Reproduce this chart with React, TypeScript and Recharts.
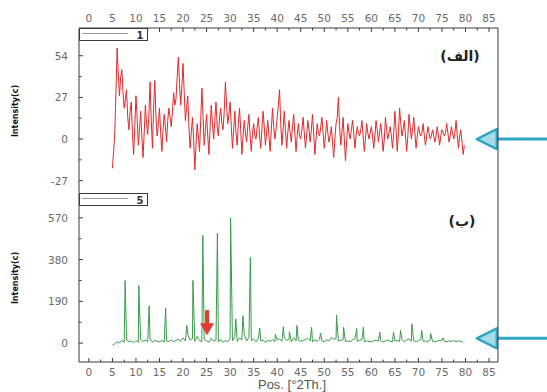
import React from "react";
import { LineChart, Line, XAxis, YAxis, ReferenceLine } from "recharts";

// sample 1 scan: 5 .. 79.75 °2Th in 0.25 steps
const TOP_START = 5;
const TOP_STEP = 0.25;
const TOP_VALUES = [
  -19, -8, 4, 30, 59, 42, 28, 40, 45, 30, 20, 26, 32, 14, 6, 18, 24, 4, -10, 8,
  28, 14, -4, 6, 18, 2, -12, 4, 22, 10, 3, 16, 37, 12, -6, 20, 38, 14, 2, 10,
  20, 4, -8, 6, 16, 8, -2, 12, 20, 14, 8, 18, 30, 22, 26, 40, 53, 36, 22, 34,
  49, 30, 12, 20, 28, 8, -6, 4, 14, 0, -20, -4, 10, 2, -8, 12, 33, 14, -4, 6,
  16, 2, -10, 8, 22, 10, 0, 12, 24, 8, 2, 14, 20, 10, 6, 18, 37, 22, 10, 16,
  24, 8, -6, 6, 18, 4, -4, 10, 20, 6, -10, 2, 12, 4, -2, 8, 16, 2, -8, 4,
  10, 2, 0, 8, 14, 2, -6, 6, 18, 8, -4, 4, 12, 2, -8, 6, 20, 8, 0, 6,
  14, 22, 32, 10, -4, 6, 18, 6, -6, 4, 12, 4, -2, 8, 16, 4, -8, 2, 10, 2,
  0, 6, 14, 4, -6, 2, 12, 6, -2, 6, 16, 4, -10, 0, 10, 4, 2, 8, 14, 4,
  -6, 2, 12, 4, -2, 2, 8, -2, -12, 0, 10, 14, 27, 8, -4, 4, 14, 0, -14, -2,
  10, 4, 0, 6, 12, 4, -6, 2, 8, 4, 2, 6, 12, 2, -8, 0, 10, 4, 0, 4,
  8, 2, -6, 2, 12, 6, -2, 4, 10, 2, -8, 0, 14, 6, 0, 4, 8, 2, -6, 4,
  18, 6, -8, 4, 20, 10, 2, 6, 12, 2, -8, 2, 16, 8, 0, 6, 14, 4, -6, 2,
  8, 4, 2, 4, 10, 2, -4, 2, 8, 4, 0, 2, 6, 2, -2, 2, 8, 2, -4, 2,
  6, 4, 2, 4, 10, 4, -2, 2, 8, 4, 0, 4, 12, 2, -6, 2, 6, -2, -10, -4,
];

// sample 5 scan background: 5 .. 79.5 °2Th in 0.5 steps
const BOT_START = 5;
const BOT_STEP = 0.5;
const BOTTOM_BASE = [
  -10, -4, 6, 2, 12, 4, 14, 6, 10, 2,
  12, 4, 16, 8, 14, 6, 18, 4, 12, 8,
  6, 12, 4, 10, 8, 14, 6, 12, 18, 8,
  24, 10, 40, 14, 20, 8, 30, 12, 6, 16,
  10, 4, 22, 8, 14, 6, 16, 4, 12, 6,
  20, 10, 30, 8, 24, 14, 40, 10, 26, 12,
  18, 6, 22, 10, 14, 4, 12, 8, 16, 6,
  14, 20, 8, 26, 12, 18, 6, 24, 10, 14,
  8, 12, 16, 22, 10, 6, 14, 8, 18, 10,
  6, 14, 10, 26, 18, 20, 10, 12, 16, 8,
  10, 6, 14, 20, 8, 12, 16, 6, 10, 8,
  6, 10, 14, 8, 12, 6, 10, 14, 8, 6,
  10, 12, 8, 16, 6, 14, 20, 8, 10, 6,
  12, 16, 8, 10, 6, 14, 8, 6, 10, 12,
  14, 8, 6, 10, 8, 12, 6, 10, 8, 4,
];

// sample 5 reflections
const PEAK_POS = [
  7.7, 10.6, 12.8, 16.3, 20.8, 22.1, 24.2, 27.3, 30.1, 31.2,
  32.7, 34.3, 36.3, 39.6, 41.3, 42.6, 44.2, 47.3, 49.2, 52.6,
  54.1, 56.9, 58.3, 61.8, 64.7, 66.2, 68.6, 70.7, 72.6, 75.2,
];
const PEAK_HEIGHT = [
  285, 262, 170, 160, 80, 285, 490, 500, 570, 110,
  125, 390, 68, 40, 74, 52, 80, 72, 46, 128,
  72, 66, 72, 50, 50, 58, 88, 58, 44, 24,
];

const X_TICKS = [
  0, 2.5, 5, 7.5, 10, 12.5, 15, 17.5, 20, 22.5, 25, 27.5, 30, 32.5, 35, 37.5,
  40, 42.5, 45, 47.5, 50, 52.5, 55, 57.5, 60, 62.5, 65, 67.5, 70, 72.5, 75,
  77.5, 80, 82.5, 85,
];
const X_LABELS = [0, 5, 10, 15, 20, 25, 30, 35, 40, 45, 50, 55, 60, 65, 70, 75, 80, 85];

const TOP_Y_TICKS = [-27, -13.5, 0, 13.5, 27, 40.5, 54, 67.5];
const TOP_Y_LABELS = [-27, 0, 27, 54];
const BOT_Y_TICKS = [0, 95, 190, 285, 380, 475, 570, 665];
const BOT_Y_LABELS = [0, 190, 380, 570];

const X_DOMAIN = [-2.1, 86.9];
const TOP_DOMAIN = [-35, 72];
const BOT_DOMAIN = [-86, 683];

const topData = TOP_VALUES.map((v, i) => ({ x: TOP_START + i * TOP_STEP, y: v }));
const bottomData = [
  ...BOTTOM_BASE.map((v, i) => ({ x: BOT_START + i * BOT_STEP, y: v })),
  ...PEAK_POS.map((p, i) => ({ x: p, y: PEAK_HEIGHT[i] })),
].sort((a, b) => a.x - b.x);

const AXIS = "#3a3a3a";
const LABEL_FONT = { fontFamily: "DejaVu Sans", fontSize: 10.5, fill: "#6a6a6a" };

// custom ticks: small inward marks, labels only on majors
const xTick = (dir: number, labelDy: number | null) => (props: any) => {
  const { x, y, payload } = props;
  const major = X_LABELS.includes(payload.value);
  const len = major ? 4 : 2.5;
  return (
    <g>
      <line x1={x} x2={x} y1={y} y2={y + dir * len} stroke={AXIS} strokeWidth={1} />
      {labelDy !== null && major && (
        <text x={x} y={y + labelDy} textAnchor="middle" {...LABEL_FONT}>
          {payload.value}
        </text>
      )}
    </g>
  );
};

const yTick = (dir: number, labels: number[] | null) => (props: any) => {
  const { x, y, payload } = props;
  const major = labels ? labels.includes(payload.value) : false;
  const len = major ? 4 : 2.5;
  return (
    <g>
      <line x1={x} x2={x + dir * len} y1={y} y2={y} stroke={AXIS} strokeWidth={1} />
      {labels && major && (
        <text x={x - 11} y={y + 4} textAnchor="end" {...LABEL_FONT}>
          {payload.value}
        </text>
      )}
    </g>
  );
};

const CyanArrow = (p: any) => {
  const { x1, y1, x2, y2 } = p;
  return (
    <g>
      <line x1={x1} y1={y1} x2={x2 + 16} y2={y2} stroke="#2fa6c4" strokeWidth={3} />
      <polygon
        points={`${x2},${y2} ${x2 + 20},${y2 - 10} ${x2 + 20},${y2 + 10}`}
        fill="#a6dcea"
        stroke="#2fa6c4"
        strokeWidth={2.5}
        strokeLinejoin="round"
      />
    </g>
  );
};

const RedArrow = (p: any) => {
  const { x1, y1, y2 } = p;
  return (
    <g>
      <rect x={x1 - 2} y={y1} width={4} height={y2 - y1 - 10} fill="#e23b32" />
      <polygon points={`${x1 - 7},${y2 - 12} ${x1 + 7},${y2 - 12} ${x1},${y2}`} fill="#e23b32" />
    </g>
  );
};

const App: React.FC = () => {
  return (
    <div style={{ position: "absolute", left: 0, top: 0, width: 547, height: 392, background: "#fff" }}>
      {/* sample 1 */}
      <div style={{ position: "absolute", left: 0, top: 0 }}>
        <LineChart width={547} height={193} data={topData} margin={{ top: 0, right: 0, bottom: 0, left: 0 }}>
          <XAxis
            xAxisId="t"
            orientation="top"
            dataKey="x"
            type="number"
            domain={X_DOMAIN}
            ticks={X_TICKS}
            interval={0}
            height={28}
            tickSize={0}
            tickMargin={0}
            tickLine={false}
            stroke={AXIS}
            tick={xTick(1, -6)}
          />
          <XAxis
            xAxisId="b"
            orientation="bottom"
            dataKey="x"
            type="number"
            domain={X_DOMAIN}
            ticks={X_TICKS}
            interval={0}
            height={0}
            tickSize={0}
            tickMargin={0}
            tickLine={false}
            stroke={AXIS}
            tick={xTick(-1, null)}
          />
          <YAxis
            yAxisId="l"
            type="number"
            domain={TOP_DOMAIN}
            ticks={TOP_Y_TICKS}
            interval={0}
            width={79}
            tickSize={0}
            tickMargin={0}
            tickLine={false}
            stroke={AXIS}
            tick={yTick(1, TOP_Y_LABELS)}
          />
          <YAxis
            yAxisId="r"
            orientation="right"
            type="number"
            domain={TOP_DOMAIN}
            ticks={TOP_Y_TICKS}
            interval={0}
            width={49}
            tickSize={0}
            tickMargin={0}
            tickLine={false}
            stroke={AXIS}
            tick={yTick(-1, null)}
          />
          <Line
            xAxisId="t"
            yAxisId="l"
            type="linear"
            dataKey="y"
            stroke="#e02a2c"
            strokeWidth={1}
            dot={false}
            isAnimationActive={false}
          />
          <ReferenceLine
            xAxisId="t"
            yAxisId="l"
            segment={[{ x: 97.5, y: 0 }, { x: 82.4, y: 0 }]}
            ifOverflow="visible"
            shape={CyanArrow}
          />
        </LineChart>
      </div>

      {/* sample 5 */}
      <div style={{ position: "absolute", left: 0, top: 193 }}>
        <LineChart width={547} height={199} data={bottomData} margin={{ top: 0, right: 0, bottom: 0, left: 0 }}>
          <XAxis
            xAxisId="t"
            orientation="top"
            dataKey="x"
            type="number"
            domain={X_DOMAIN}
            ticks={X_TICKS}
            interval={0}
            height={0}
            tickSize={0}
            tickMargin={0}
            tickLine={false}
            stroke={AXIS}
            tick={xTick(1, null)}
          />
          <XAxis
            xAxisId="b"
            orientation="bottom"
            dataKey="x"
            type="number"
            domain={X_DOMAIN}
            ticks={X_TICKS}
            interval={0}
            height={30}
            tickSize={0}
            tickMargin={0}
            tickLine={false}
            stroke={AXIS}
            tick={xTick(-1, 14)}
          />
          <YAxis
            yAxisId="l"
            type="number"
            domain={BOT_DOMAIN}
            ticks={BOT_Y_TICKS}
            interval={0}
            width={79}
            tickSize={0}
            tickMargin={0}
            tickLine={false}
            stroke={AXIS}
            tick={yTick(1, BOT_Y_LABELS)}
          />
          <YAxis
            yAxisId="r"
            orientation="right"
            type="number"
            domain={BOT_DOMAIN}
            ticks={BOT_Y_TICKS}
            interval={0}
            width={49}
            tickSize={0}
            tickMargin={0}
            tickLine={false}
            stroke={AXIS}
            tick={yTick(-1, null)}
          />
          <Line
            xAxisId="b"
            yAxisId="l"
            type="linear"
            dataKey="y"
            stroke="#3c9a4c"
            strokeWidth={1}
            dot={false}
            isAnimationActive={false}
          />
          <ReferenceLine
            xAxisId="b"
            yAxisId="l"
            segment={[{ x: 25.1, y: 150 }, { x: 25.1, y: 36 }]}
            ifOverflow="visible"
            shape={RedArrow}
          />
          <ReferenceLine
            xAxisId="b"
            yAxisId="l"
            segment={[{ x: 97.5, y: 22 }, { x: 82.4, y: 22 }]}
            ifOverflow="visible"
            shape={CyanArrow}
          />
        </LineChart>
      </div>

      {/* titles, legend boxes, panel tags */}
      <svg
        width={547}
        height={392}
        style={{ position: "absolute", left: 0, top: 0, pointerEvents: "none" }}
      >
        <g>
          <rect x={79.5} y={28.5} width={68} height={12} fill="#fff" stroke={AXIS} />
          <line x1={82} x2={128} y1={33.5} y2={33.5} stroke="#999" />
          <text x={140} y={39} textAnchor="middle" fontFamily="DejaVu Sans" fontWeight="bold" fontSize={10} fill="#333">
            1
          </text>
        </g>
        <g>
          <rect x={79.5} y={193.5} width={68} height={12} fill="#fff" stroke={AXIS} />
          <line x1={82} x2={128} y1={198.5} y2={198.5} stroke="#999" />
          <text x={140} y={204} textAnchor="middle" fontFamily="DejaVu Sans" fontWeight="bold" fontSize={10} fill="#333">
            5
          </text>
        </g>
        <text x={460} y={61} textAnchor="middle" fontFamily="DejaVu Sans" fontWeight="bold" fontSize={14} fill="#222">
          (الف)
        </text>
        <text x={462} y={226} textAnchor="middle" fontFamily="DejaVu Sans" fontWeight="bold" fontSize={14} fill="#222">
          (ب)
        </text>
        <text
          transform="translate(18,111) rotate(-90)"
          textAnchor="middle"
          fontFamily="DejaVu Sans"
          fontWeight="bold"
          fontSize={8}
          fill="#111"
        >
          Intensity(c)
        </text>
        <text
          transform="translate(18,278) rotate(-90)"
          textAnchor="middle"
          fontFamily="DejaVu Sans"
          fontWeight="bold"
          fontSize={8}
          fill="#111"
        >
          Intensity(c)
        </text>
        <text x={292} y={389} textAnchor="middle" fontFamily="Liberation Sans" fontSize={13} fill="#555">
          Pos. [°2Th.]
        </text>
      </svg>
    </div>
  );
};

export default App;
